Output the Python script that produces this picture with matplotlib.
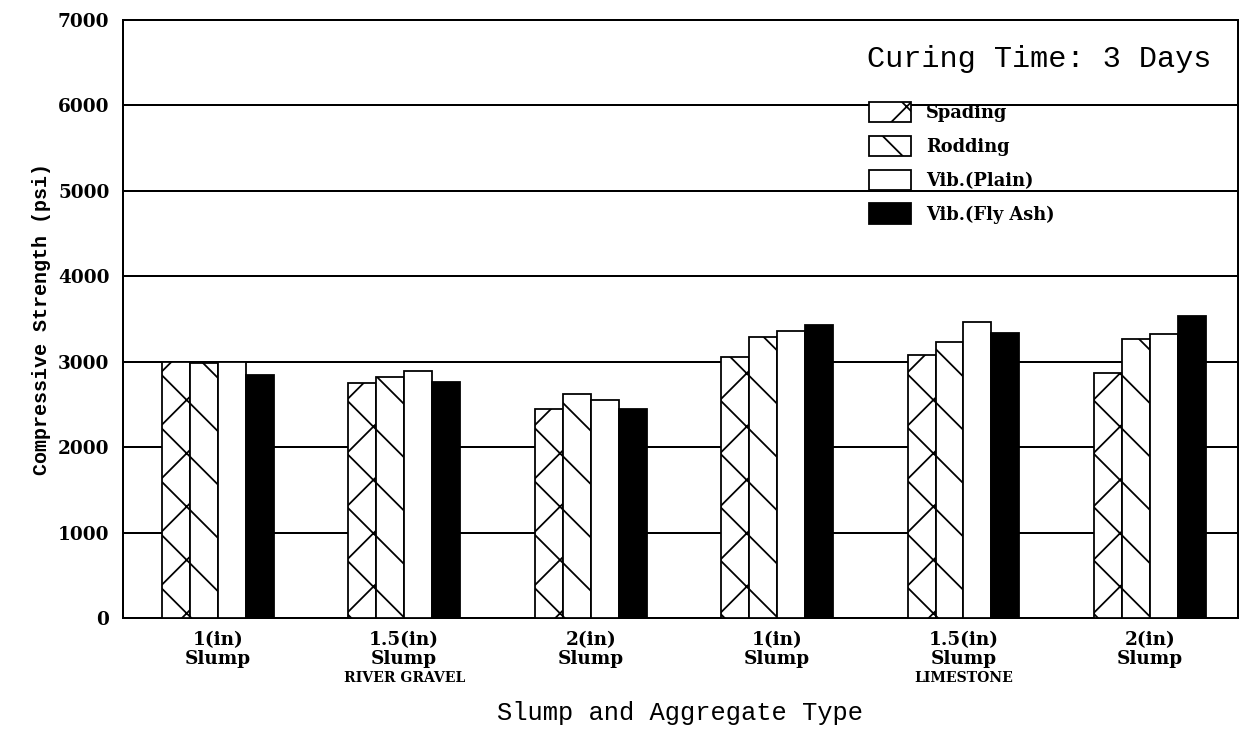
import numpy as np
import matplotlib
matplotlib.use("Agg")
import matplotlib.pyplot as plt

# data (psi)
groups = ["1(in)\nSlump", "1.5(in)\nSlump", "2(in)\nSlump",
          "1(in)\nSlump", "1.5(in)\nSlump", "2(in)\nSlump"]
aggregates = ["RIVER GRAVEL", "LIMESTONE"]
aggregate_pos = [1, 4]
methods = ["Spading", "Rodding", "Vib.(Plain)", "Vib.(Fly Ash)"]
spading = [2995, 2750, 2445, 3050, 3075, 2870]
rodding = [2985, 2825, 2625, 3290, 3225, 3265]
vib_plain = [3000, 2895, 2555, 3360, 3470, 3320]
vib_fly_ash = [2850, 2765, 2445, 3430, 3340, 3540]

series = [spading, rodding, vib_plain, vib_fly_ash]
hatches = ["x", "\\", "", ""]
faces = ["white", "white", "white", "black"]

plt.rcParams['hatch.linewidth'] = 0.8
fig = plt.figure(figsize=(7.75, 4.63125), dpi=160)
ax = fig.add_axes([0.099, 0.166, 0.899, 0.807])

x = np.arange(len(groups))
w = 0.15
for i, vals in enumerate(series):
    ax.bar(x + (i - 1.5) * w, vals, w, color=faces[i], edgecolor="black",
           hatch=hatches[i], linewidth=0.8, label=methods[i], zorder=3)

ax.set_xlim(-0.51, 5.47)
ax.set_ylim(0, 7000)
ax.set_yticks(np.arange(0, 7001, 1000))
ax.yaxis.grid(True, color="black", linewidth=0.9, zorder=0)
ax.set_axisbelow(True)
for s in ax.spines.values():
    s.set_linewidth(0.9)

tick_font = dict(family="DejaVu Serif", weight="bold", size=8.3)
ax.set_xticks(x)
ax.set_xticklabels(groups, fontdict=tick_font, linespacing=1.05)
ax.set_yticklabels([str(v) for v in range(0, 7001, 1000)], fontdict=tick_font)
ax.tick_params(axis="x", length=0, pad=6)
ax.tick_params(axis="y", length=0, pad=6)

for pos, name in zip(aggregate_pos, aggregates):
    ax.text(pos, -0.088, name, transform=ax.get_xaxis_transform(),
            ha="center", va="top", family="DejaVu Serif",
            weight="bold", size=6.3)

ax.set_ylabel("Compressive Strength (psi)", family="Liberation Mono",
              weight="bold", size=9, labelpad=3)
ax.set_xlabel("Slump and Aggregate Type", family="Liberation Mono",
              size=11.5, labelpad=15)

ax.text(0.8224, 0.935, "Curing Time: 3 Days", transform=ax.transAxes,
        ha="center", va="center", family="Liberation Mono", size=13.6)

ax.legend(loc="upper left", bbox_to_anchor=(0.661, 0.878), frameon=False,
          borderpad=0, handlelength=2.4, handleheight=1.4,
          labelspacing=0.75, handletextpad=0.85,
          prop=dict(family="DejaVu Serif", weight="bold", size=8))

fig.savefig("out.png", dpi=160)
